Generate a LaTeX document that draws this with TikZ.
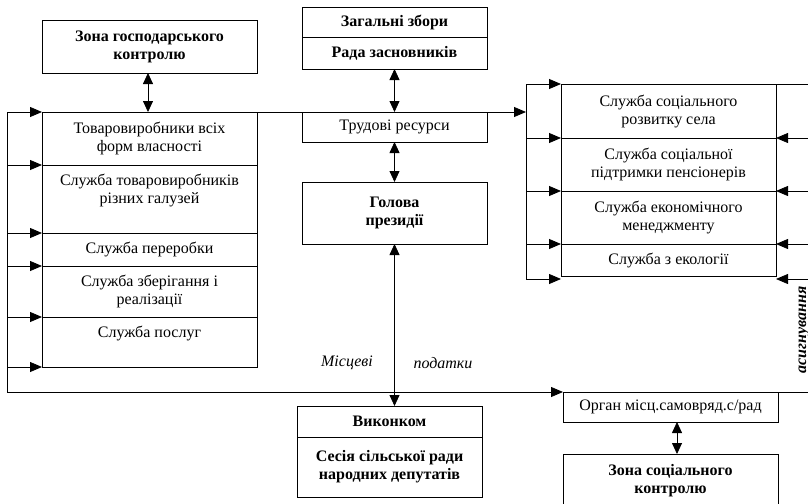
\documentclass[tikz,border=0pt]{standalone}
\usepackage{fontspec}
\setmainfont{Liberation Serif}
\usetikzlibrary{arrows.meta,positioning}
\newcommand\txtsize{\fontsize{16}{18}\selectfont}

\tikzset{
  box/.style={draw, line width=0.8pt, inner sep=0pt, outer sep=0pt, anchor=north west, align=center, minimum width=215pt},
  cbox/.style={box, minimum width=185pt},
  bold/.style={font=\txtsize\bfseries},
  txt/.style={inner sep=0pt, align=center},
  arr/.style={line width=0.8pt, -{Triangle[length=12pt,width=10pt]}},
  darr/.style={line width=0.8pt, {Triangle[length=11pt,width=10pt]}-{Triangle[length=11pt,width=10pt]}},
  ln/.style={line width=0.8pt}
}

\begin{document}
\begin{tikzpicture}[x=1pt, y=-1pt, font=\txtsize]
  \useasboundingbox (0,0) rectangle (808,503);

  % left column
  \node [box, bold, minimum height=53pt] (zonaH) at (42,20) {Зона господарського\\контролю};
  \node [box, minimum height=53pt] (tovar) at (42,112) {Товаровиробники всіх\\форм власності};
  \node [box, minimum height=68pt] (galuz) at (42,165) {};
  \node [txt, below=9pt of galuz.north] (galuzT) {Служба товаровиробників\\різних галузей};
  \node [box, minimum height=33pt] (perer) at (42,233) {Служба переробки};
  \node [box, minimum height=51pt] (zber) at (42,266) {Служба зберігання і\\реалізації};
  \node [box, minimum height=50pt] (posl) at (42,317) {};
  \node [txt, below=9pt of posl.north] (poslT) {Служба послуг};

  % centre column
  \node [cbox, bold, minimum height=30pt] (zbory) at (302,7) {Загальні збори};
  \node [cbox, bold, minimum height=32pt] (rada) at (302,37) {Рада засновників};
  \node [cbox, minimum height=30pt] (trud) at (302,112) {Трудові ресурси};
  \node [cbox, bold, minimum height=62pt] (golova) at (302,182) {Голова\\президії};
  \node [cbox, bold, minimum height=31pt] (vykon) at (297,406) {Виконком};
  \node [cbox, bold, minimum height=60pt] (sesia) at (297,437) {Сесія сільської ради\\народних депутатів};

  % right column
  \node [box, minimum height=54pt] (rozv) at (561,84) {Служба соціального\\розвитку села};
  \node [box, minimum height=53pt] (pidtr) at (561,138) {Служба соціальної\\підтримки пенсіонерів};
  \node [box, minimum height=53pt] (ekon) at (561,191) {Служба економічного\\менеджменту};
  \node [box, minimum height=32pt] (ekol) at (561,244) {Служба з екології};
  \node [box, minimum height=30pt] (organ) at (563,392) {Орган місц.самовряд.с/рад};
  \node [box, bold, minimum height=54pt] (zonaS) at (563,454) {Зона соціального\\контролю};

  % labels
  \node [txt, font=\txtsize\itshape] (mistsevi) at (347,363) {Місцеві};
  \node [txt, font=\txtsize\itshape] (podatky) at (443,363) {податки};
  \node [txt, font=\txtsize\bfseries\itshape, rotate=90] (asyg) at (804,330) {асигнування};

  % free ends
  \coordinate (lt) at (7,112);
  \coordinate (lb) at (7,392);
  \coordinate (rt) at (526,84);
  \coordinate (rb) at (526,279);
  \coordinate (et) at (808,84);
  \coordinate (eb) at (808,392);

  % left bracket
  \draw [ln] (lt) -- (lb);
  \draw [arr] (lt) -- (tovar.north west);
  \foreach \n in {galuz, perer, zber, posl}
    \draw [arr] (lt |- \n.north west) -- (\n.north west);
  \draw [arr] (lt |- posl.south west) -- (posl.south west);
  \draw [ln] (tovar.north east) -- (trud.north west);
  \draw [arr] (trud.north east) -- (rt |- trud.north);

  % right bracket
  \draw [ln] (rt) -- (rb);
  \foreach \n in {rozv, pidtr, ekon, ekol}
    \draw [arr] (rt |- \n.north west) -- (\n.north west);
  \draw [arr] (rb) -- (rb -| ekol.west);
  \draw [ln] (rozv.north east) -- (et);
  \foreach \n in {pidtr, ekon, ekol}
    \draw [arr] (et |- \n.north east) -- (\n.north east);
  \draw [arr] (et |- rb) -- (rb -| ekol.east);

  % bottom line
  \draw [arr] (lb) -- (organ.north west);
  \draw [ln] (organ.north east) -- (eb);

  % vertical links
  \draw [darr] (zonaH.south -| 148,0) -- (tovar.north -| 148,0);
  \draw [darr] (rada.south) -- (trud.north);
  \draw [darr] (trud.south) -- (golova.north);
  \draw [darr] (golova.south) -- (golova.south |- vykon.north);
  \draw [darr] (organ.south -| 677,0) -- (zonaS.north -| 677,0);
\end{tikzpicture}
\end{document}
